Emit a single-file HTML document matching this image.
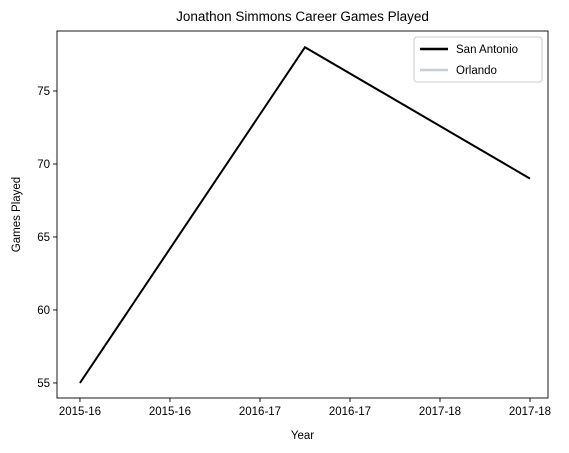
<!DOCTYPE html>
<html><head><meta charset="utf-8"><style>
body{margin:0;background:#fff;}
svg{display:block;font-family:"Liberation Sans","DejaVu Sans",sans-serif;}
</style></head><body>
<svg id="chart" width="569" height="453"></svg>
<script>
const categories=["2015-16","2016-17","2017-18"];
const sanAntonio=[55,78,69];
const orlando=[];
const yTicks=[55,60,65,70,75];
const xTickPos=[0,0.4,0.8,1.2,1.6,2.0];
const xTickLabels=["2015-16","2015-16","2016-17","2016-17","2017-18","2017-18"];

const NS="http://www.w3.org/2000/svg";
const svg=document.getElementById('chart');
const L=57,R=548,T=31,B=398;
const xMin=-0.102,xMax=2.08,yMin=53.97,yMax=79.11;
const sx=v=>L+(v-xMin)/(xMax-xMin)*(R-L);
const sy=v=>B-(v-yMin)/(yMax-yMin)*(B-T);
function mk(tag,attrs,parent){const e=document.createElementNS(NS,tag);for(const k in attrs)e.setAttribute(k,attrs[k]);(parent||svg).appendChild(e);return e;}

const title=mk('text',{x:(L+R)/2,y:21,'text-anchor':'middle','font-size':13.5,fill:'#000'});
title.textContent="Jonathon Simmons Career Games Played";



yTicks.forEach(v=>{
  const t=mk('line',{x1:L-4,x2:L,y1:sy(v),y2:sy(v),stroke:'#000','stroke-width':0.9});
  
  
  const l=mk('text',{x:L-7,y:sy(v)+4,'text-anchor':'end','font-size':11.5});
  l.textContent=v;
  
  
});
xTickPos.forEach((v,i)=>{
  const t=mk('line',{x1:sx(v),x2:sx(v),y1:B,y2:B+4,stroke:'#000','stroke-width':0.9});
  
  
  const l=mk('text',{x:sx(v),y:B+17,'text-anchor':'middle','font-size':11.5});
  l.textContent=xTickLabels[i];
  
  
});

const line=mk('polyline',{points:sanAntonio.map((v,i)=>sx(i)+','+sy(v)).join(' '),fill:'none',stroke:'#000','stroke-width':2});


if(orlando.length){
  const ol=mk('polyline',{points:orlando.map((v,i)=>sx(i)+','+sy(v)).join(' '),fill:'none',stroke:'#c4ced4','stroke-width':2});
  
  
}

const frame=mk('rect',{x:L,y:T,width:R-L,height:B-T,fill:'none',stroke:'#000','stroke-width':0.9});



const xt=mk('text',{x:(L+R)/2,y:439,'text-anchor':'middle','font-size':11.5});
xt.textContent="Year";


const yt=mk('text',{x:20,y:(T+B)/2,'text-anchor':'middle','font-size':11.5,transform:'rotate(-90 20 '+((T+B)/2)+')'});
yt.textContent="Games Played";



const lg=mk('g',{});


mk('rect',{x:414,y:37,width:128,height:45,rx:3,fill:'#fff',stroke:'#ccc','stroke-width':1},lg);
[["San Antonio","#000"],["Orlando","#c4ced4"]].forEach((e,i)=>{
  const g=mk('g',{},lg);
  
  
  mk('line',{x1:420,x2:448,y1:49+i*21,y2:49+i*21,stroke:e[1],'stroke-width':2.5},g);
  const t=mk('text',{x:456,y:53+i*21,'font-size':11.5},g);
  t.textContent=e[0];
});
</script>
</body></html>
